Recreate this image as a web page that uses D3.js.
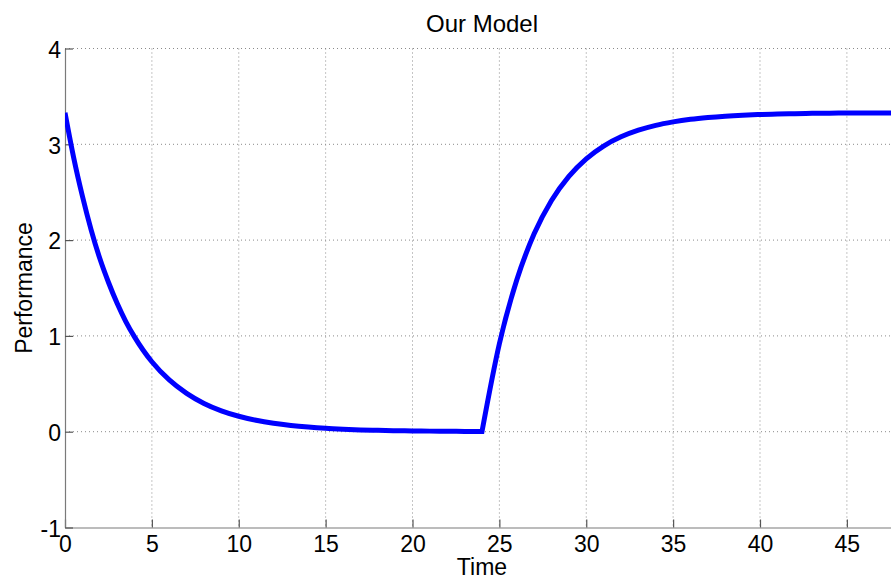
<!DOCTYPE html>
<html>
<head>
<meta charset="utf-8">
<script src="https://cdn.jsdelivr.net/npm/d3@7"></script>
<style>
  html, body { margin: 0; padding: 0; background: #fff; }
  svg { display: block; }
  text { font-family: "Liberation Sans", Arial, Helvetica, sans-serif; fill: #000; }
</style>
</head>
<body>
<svg id="chart" width="891" height="581"></svg>
<script>
// Decay phase: performance falls from its start level toward zero
const decayTime = [0, 0.5, 1, 1.5, 2, 2.5, 3, 3.5, 4, 4.5, 5, 6, 7, 8, 9, 10, 11, 12, 13, 14, 15, 16, 17, 18, 19, 20, 21, 22, 23, 24];
const decayPerf = [3.33, 2.86, 2.46, 2.11, 1.81, 1.56, 1.34, 1.15, 0.99, 0.85, 0.73, 0.54, 0.40, 0.295, 0.218, 0.161, 0.119, 0.088, 0.065, 0.048, 0.035, 0.026, 0.019, 0.014, 0.010, 0.008, 0.006, 0.004, 0.003, 0.002];

// Recovery phase: performance climbs back after t = 24
const recoverTime = [24, 25, 26, 27, 28, 29, 30, 31, 32, 33, 34, 35, 36, 37, 38, 39, 40, 41, 42, 43, 44, 45, 46, 47, 48];
const recoverPerf = [0.002, 0.918, 1.583, 2.065, 2.414, 2.666, 2.849, 2.982, 3.078, 3.147, 3.198, 3.234, 3.261, 3.280, 3.294, 3.304, 3.311, 3.316, 3.320, 3.323, 3.325, 3.326, 3.327, 3.328, 3.328];

const xTicks = [0, 5, 10, 15, 20, 25, 30, 35, 40, 45];
const yTicks = [-1, 0, 1, 2, 3, 4];

const titleText = "Our Model";
const xLabel = "Time";
const yLabel = "Performance";

const svg = d3.select("#chart");
const plotLeft = 65, plotRight = 899, plotTop = 48.5, plotBottom = 527.5;

const x = d3.scaleLinear().domain([0, 48]).range([plotLeft, plotRight]);
const y = d3.scaleLinear().domain([-1, 4]).range([plotBottom, plotTop]);

const fontSize = 23;

// Dotted grid
const grid = svg.append("g");
grid.selectAll("line.gx").data(xTicks.filter(d => d !== 0)).join("line")
  .attr("x1", d => x(d)).attr("x2", d => x(d))
  .attr("y1", plotTop).attr("y2", plotBottom)
  .attr("stroke", "#8a8a8a").attr("stroke-width", 1)
  .attr("stroke-dasharray", "1,3");
grid.selectAll("line.gy").data(yTicks.filter(d => d !== -1)).join("line")
  .attr("x1", plotLeft).attr("x2", plotRight)
  .attr("y1", d => y(d)).attr("y2", d => y(d))
  .attr("stroke", "#8a8a8a").attr("stroke-width", 1)
  .attr("stroke-dasharray", "1,3");

// Axes with inward ticks; plain hyphen for negatives
const fmt = d => String(d);
const xAxis = d3.axisBottom(x).tickValues(xTicks).tickFormat(fmt).tickSizeInner(-8).tickSizeOuter(0).tickPadding(14);
const yAxis = d3.axisLeft(y).tickValues(yTicks).tickFormat(fmt).tickSizeInner(-8).tickSizeOuter(0).tickPadding(14);

const gx = svg.append("g").attr("transform", `translate(0,${plotBottom})`).call(xAxis);
const gy = svg.append("g").attr("transform", `translate(${plotLeft},0)`).call(yAxis);

[gx, gy].forEach(g => {
  g.select(".domain").attr("stroke", "#7a7a7a").attr("stroke-width", 1.2);
  g.selectAll(".tick line").attr("stroke", "#555").attr("stroke-width", 1.2);
  g.selectAll(".tick text")
    .style("font-family", "'Liberation Sans', Arial, sans-serif")
    .style("font-size", fontSize + "px")
    .attr("fill", "#000");
});
gx.selectAll(".tick text").attr("dy", "0.71em").attr("y", 8);
gy.selectAll(".tick text").attr("x", -4).attr("dy", "0.38em");

// Performance curve, drawn as two smooth pieces meeting at the switch point
const line = d3.line()
  .x(d => x(d[0]))
  .y(d => y(d[1]))
  .curve(d3.curveMonotoneX);

const decayData = decayTime.map((t, i) => [t, decayPerf[i]]);
const recoverData = recoverTime.map((t, i) => [t, recoverPerf[i]]);

svg.append("defs").append("clipPath").attr("id", "plotClip")
  .append("rect").attr("x", plotLeft).attr("y", 0).attr("width", plotRight - plotLeft).attr("height", 581);

const curves = svg.append("g").attr("clip-path", "url(#plotClip)");
curves.append("path")
  .attr("d", line(decayData) + line(recoverData).replace(/^M/, "L"))
  .attr("fill", "none")
  .attr("stroke", "#0000ff")
  .attr("stroke-width", 5)
  .attr("stroke-linejoin", "miter")
  .attr("stroke-linecap", "butt");

// Title and axis labels
svg.append("text")
  .attr("x", (plotLeft + plotRight) / 2).attr("y", 31.5)
  .attr("text-anchor", "middle")
  .style("font-size", "24px")
  .text(titleText);

svg.append("text")
  .attr("x", (plotLeft + plotRight) / 2).attr("y", 575)
  .attr("text-anchor", "middle")
  .style("font-size", fontSize + "px")
  .text(xLabel);

svg.append("text")
  .attr("transform", `translate(32,${(plotTop + plotBottom) / 2}) rotate(-90)`)
  .attr("text-anchor", "middle")
  .style("font-size", fontSize + "px")
  .text(yLabel);
</script>
</body>
</html>
